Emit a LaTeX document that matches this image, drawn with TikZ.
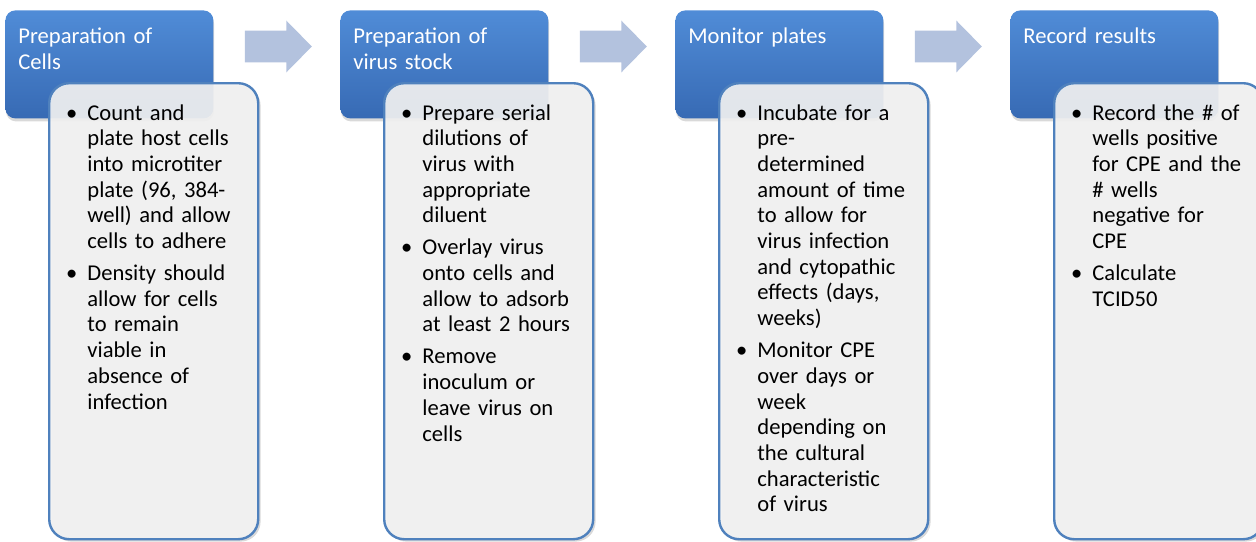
\documentclass[tikz,border=0pt]{standalone}
\usepackage{fontspec}
\setmainfont{Carlito}
\usetikzlibrary{shadows,shapes.arrows}
\definecolor{headtop}{RGB}{80,140,215}
\definecolor{headbot}{RGB}{55,106,180}
\definecolor{boxline}{RGB}{79,129,189}
\definecolor{boxfill}{RGB}{243,243,243}
\definecolor{flowfill}{RGB}{179,194,222}
\newcommand\bul{\llap{\textbullet\hspace{5pt}}}
\newcommand\nbul{\par\vspace{3.15pt}\noindent\bul}
\begin{document}
\begin{tikzpicture}[x=0.5pt,y=-0.5pt,
 head/.style={anchor=north west,rounded corners=5pt,minimum width=104pt,minimum height=54pt,inner sep=0pt,
   top color=headtop,bottom color=headbot,drop shadow={opacity=0.3,shadow xshift=0.3pt,shadow yshift=-1.5pt}},
 headtext/.style={anchor=base west,text=white,text width=95pt,align=left,inner sep=0pt,font=\fontsize{11.3}{13.2}\selectfont},
 detail/.style={anchor=north west,rounded corners=10pt,minimum width=104.5pt,minimum height=228pt,inner sep=0pt,
   draw=boxline,line width=1.2pt,fill=boxfill,fill opacity=0.9,drop shadow={opacity=0.3,shadow xshift=1.2pt,shadow yshift=-1.2pt}},
 detailtext/.style={anchor=base west,text width=85pt,inner sep=0pt,font=\fontsize{11.3}{12.85}\selectfont},
 flow/.style={single arrow,fill=flowfill,inner xsep=0pt,inner ysep=7.75pt,minimum height=33.5pt,
   single arrow head extend=5pt,single arrow tip angle=91}]
 \useasboundingbox (0,0) rectangle (1256,541);
 % headers
 \node[head] (h1) at (5,10) {};
 \node[head] (h2) at (340,10) {};
 \node[head] (h3) at (675,10) {};
 \node[head] (h4) at (1010,10) {};
 %
 \node[flow] (a1) at (270.5,46.5) {};
 \node[flow] (a2) at (605.5,46.5) {};
 \node[flow] (a3) at (940.5,46.5) {};
 % detail boxes
 \node[detail] (d1) at (48,82) {};
 \node[detail] (d2) at (383,82) {};
 \node[detail] (d3) at (718,82) {};
 \node[detail] (d4) at (1053,82) {};
 %
 \node[headtext] (ht1) at (18,43) {Preparation of\\Cells};
 \node[headtext] (ht2) at (353,43) {Preparation of\\virus stock};
 \node[headtext] (ht3) at (688,43) {Monitor plates};
 \node[headtext] (ht4) at (1023,43) {Record results};
 %
 \node[detailtext] (dt1) at (87,120) {\bul Count and\newline plate host cells\newline into microtiter\newline plate (96, 384-\newline well) and allow\newline cells to adhere
   \nbul Density should\newline allow for cells\newline to remain\newline viable in\newline absence of\newline infection\par};
 \node[detailtext] (dt2) at (422,120) {\bul Prepare serial\newline dilutions of\newline virus with\newline appropriate\newline diluent
   \nbul Overlay virus\newline onto cells and\newline allow to adsorb\newline at least 2 hours
   \nbul Remove\newline inoculum or\newline leave virus on\newline cells\par};
 \node[detailtext] (dt3) at (757,120) {\bul Incubate for a\newline pre-\newline determined\newline amount of time\newline to allow for\newline virus infection\newline and cytopathic\newline effects (days,\newline weeks)
   \nbul Monitor CPE\newline over days or\newline week\newline depending on\newline the cultural\newline characteristic\newline of virus\par};
 \node[detailtext] (dt4) at (1092,120) {\bul Record the \# of\newline wells positive\newline for CPE and the\newline \# wells\newline negative for\newline CPE
   \nbul Calculate\newline TCID50\par};
\end{tikzpicture}
\end{document}
